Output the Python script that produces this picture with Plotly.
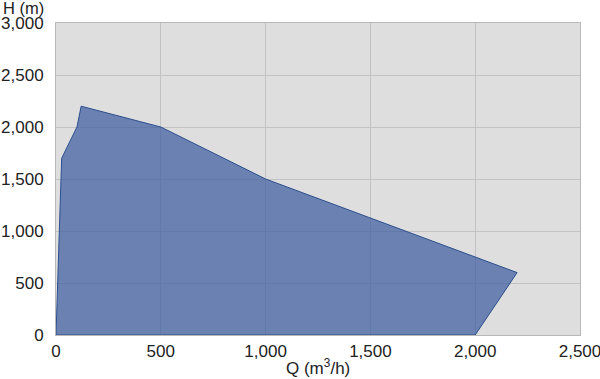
import plotly.graph_objects as go

# Envelope of the operating range (Q in m3/h, H in m)
flow_q = [0, 27, 100, 120, 500, 1000, 2200, 2000, 0]
head_h = [0, 1700, 2000, 2200, 2000, 1500, 600, 0, 0]

x_ticks = [0, 500, 1000, 1500, 2000, 2500]
y_ticks = [0, 500, 1000, 1500, 2000, 2500, 3000]

fig = go.Figure()
fig.add_trace(go.Scatter(
    x=flow_q, y=head_h, mode="lines", fill="toself",
    fillcolor="rgba(63,93,159,0.72)",
    line=dict(color="#2b4f8e", width=1),
    hoverinfo="skip", showlegend=False,
))

font = dict(family="Liberation Sans, Arial, Helvetica, sans-serif", size=17, color="#222222")
title_font = dict(family="Liberation Sans, Arial, Helvetica, sans-serif", size=16.5, color="#222222")

fig.update_layout(
    width=600, height=379,
    margin=dict(l=56, r=20, t=23, b=44),
    paper_bgcolor="white", plot_bgcolor="#dedede",
    font=font,
    xaxis=dict(range=[0, 2500], tickvals=x_ticks, tickformat=",d",
               showgrid=True, gridcolor="#c2c2c2", gridwidth=1,
               zeroline=False, showline=True, linecolor="#b8b8b8", mirror=True,
               ticks="outside", ticklen=1, tickcolor="rgba(0,0,0,0)", tickfont=font,
               automargin=False, ticklabeloverflow="allow", fixedrange=True),
    yaxis=dict(range=[0, 3000], tickvals=y_ticks, tickformat=",d",
               showgrid=True, gridcolor="#c2c2c2", gridwidth=1,
               zeroline=False, showline=True, linecolor="#b8b8b8", mirror=True,
               ticks="outside", ticklen=8, tickcolor="rgba(0,0,0,0)", tickfont=font,
               automargin=False, ticklabeloverflow="allow", fixedrange=True),
    annotations=[
        dict(text="H (m)", xref="paper", yref="paper", x=-0.019, y=1.0, yshift=15,
             xanchor="right", yanchor="middle", showarrow=False, font=title_font),
        dict(text="Q (m<sup>3</sup>/h)", xref="paper", yref="paper", x=0.5, y=0, yshift=-32,
             xanchor="center", yanchor="middle", showarrow=False, font=font),
    ],
)

fig.write_html("out.html", config={"displayModeBar": False},
               post_script="document.body.style.margin='0';document.body.style.overflow='hidden';")
